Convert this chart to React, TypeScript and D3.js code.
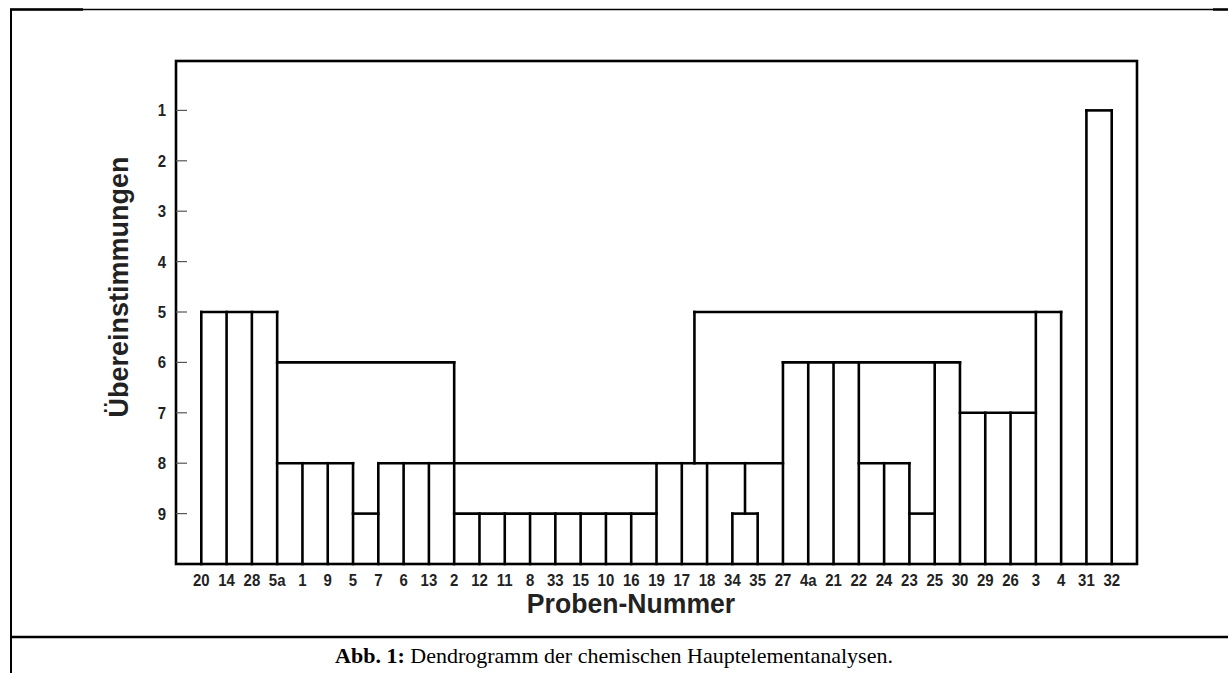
import React from "react";
import * as d3 from "d3";

const leaves = ["20","14","28","5a","1","9","5","7","6","13","2","12","11","8","33","15","10","16","19","17","18","34","35","27","4a","21","22","24","23","25","30","29","26","3","4","31","32"];
const leafLevels = [5,5,5,5,8,8,8,8,8,8,6,9,9,9,9,9,9,9,8,8,8,9,9,6,6,6,6,8,8,6,6,7,7,5,5,1,1];
// horizontal connections: [from, to, level]; "a/b" = midway between leaves a and b
const links: [string, string, number][] = [
  ["20","5a",5], ["5a","2",6], ["5a","5",8], ["5","7",9], ["7","19",8],
  ["2","19",9], ["19","27",8], ["34","35",9], ["27","30",6], ["22","23",8],
  ["23","25",9], ["30","3",7], ["17/18","4",5], ["31","32",1]
];
// vertical connectors between two levels: [position, fromLevel, toLevel]
const bridges: [string, number, number][] = [["17/18",5,8], ["34/35",8,9]];
const yTicks = [1,2,3,4,5,6,7,8,9];
const yTitle = "Übereinstimmungen";
const xTitle = "Proben-Nummer";
const captionBold = "Abb. 1:";
const captionText = " Dendrogramm der chemischen Hauptelementanalysen.";

export default function App() {
  const W = 1228, H = 673;
  const left = 176, right = 1137, top = 61, bottom = 564;
  const x = d3.scalePoint<string>().domain(leaves).range([left, right]).padding(1);
  const y = d3.scaleLinear().domain([0, 10]).range([60, bottom]);
  const pos = (k: string) => {
    if (k.includes("/")) {
      const [a, b] = k.split("/");
      return ((x(a) as number) + (x(b) as number)) / 2;
    }
    return x(k) as number;
  };
  const sw = 2.6;
  const sans = "'Liberation Sans', Arial, sans-serif";
  return (
    <svg width={W} height={H} style={{ position: "absolute", left: 0, top: 0, background: "#fff" }}>
      <rect x={0} y={0} width={W} height={H} fill="#fff" />
      {/* page frame */}
      <line x1={10} y1={9.5} x2={W} y2={9.5} stroke="#000" strokeWidth={1.3} />
      <line x1={10} y1={9.5} x2={83} y2={9.5} stroke="#000" strokeWidth={2.4} />
      <line x1={1213} y1={9.5} x2={W} y2={9.5} stroke="#000" strokeWidth={2.4} />
      <line x1={11} y1={9} x2={11} y2={H} stroke="#000" strokeWidth={2} />
      <line x1={11} y1={637} x2={W} y2={637} stroke="#000" strokeWidth={2.5} />

      {/* chart frame */}
      <rect x={left} y={top} width={right - left} height={bottom - top} fill="none" stroke="#000" strokeWidth={sw} />

      {/* y ticks */}
      {yTicks.map((t) => (
        <g key={"t" + t}>
          <line x1={left} x2={left + 11} y1={y(t)} y2={y(t)} stroke="#555" strokeWidth={1.2} />
          <text transform={`translate(166,${y(t) + 6}) scale(0.88,1)`} textAnchor="end" fontFamily={sans} fontWeight="bold" fontSize={17} fill="#222">{t}</text>
        </g>
      ))}

      {/* leaves */}
      {leaves.map((l, i) => (
        <line key={"l" + l} x1={x(l)} x2={x(l)} y1={bottom} y2={y(leafLevels[i])} stroke="#000" strokeWidth={sw} strokeLinecap="square" />
      ))}
      {links.map(([a, b, lv], i) => (
        <line key={"h" + i} x1={pos(a)} x2={pos(b)} y1={y(lv)} y2={y(lv)} stroke="#000" strokeWidth={sw} strokeLinecap="square" />
      ))}
      {bridges.map(([p, a, b], i) => (
        <line key={"b" + i} x1={pos(p)} x2={pos(p)} y1={y(a)} y2={y(b)} stroke="#000" strokeWidth={sw} strokeLinecap="square" />
      ))}

      {/* x labels */}
      {leaves.map((l) => (
        <text key={"x" + l} transform={`translate(${x(l)},586) scale(0.88,1)`} textAnchor="middle" fontFamily={sans} fontWeight="bold" fontSize={17} fill="#222">{l}</text>
      ))}

      <text transform="translate(631,613) scale(0.95,1)" textAnchor="middle" fontFamily={sans} fontWeight="bold" fontSize={28} fill="#222">{xTitle}</text>
      <text transform={`translate(128,287) rotate(-90)`} textAnchor="middle" fontFamily={sans} fontWeight="bold" fontSize={27} fill="#222">{yTitle}</text>

      <text x={614} y={663} textAnchor="middle" fontFamily="'Liberation Serif', 'Times New Roman', serif" fontSize={22} fill="#000">
        <tspan fontWeight="bold">{captionBold}</tspan>
        <tspan>{captionText}</tspan>
      </text>
    </svg>
  );
}
